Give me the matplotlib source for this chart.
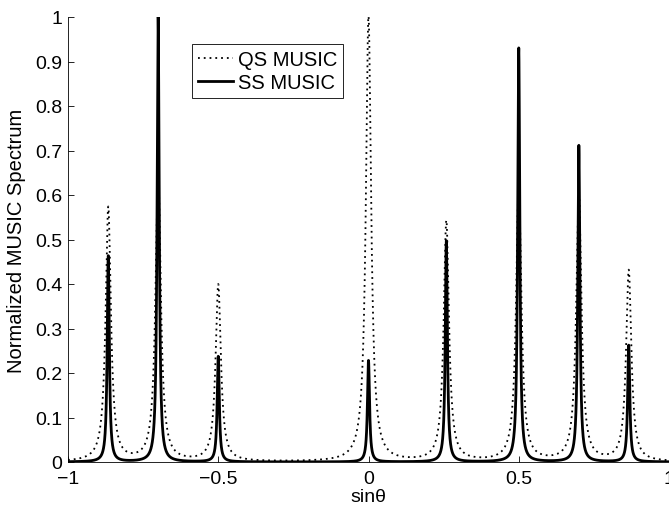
import numpy as np
import matplotlib.pyplot as plt

plt.rcParams['font.family'] = ['Liberation Sans', 'DejaVu Sans']

# peak positions (sin theta) and normalized peak heights
peak_pos = [-0.866, -0.7, -0.5, 0.0, 0.259, 0.5, 0.7, 0.866]
qs_heights = [0.571, 0.65, 0.397, 1.0, 0.54, 0.62, 0.60, 0.429]
ss_heights = [0.463, 1.0, 0.237, 0.228, 0.497, 0.93, 0.711, 0.262]
qs_width = 0.0105
ss_width = 0.0042

x = np.linspace(-1, 1, 8001)


def spectrum(heights, w):
    y = np.zeros_like(x)
    for p, h in zip(peak_pos, heights):
        y += h / (1 + ((x - p) / w) ** 2)
    return y


qs = spectrum(qs_heights, qs_width)
ss = spectrum(ss_heights, ss_width)

fig = plt.figure(figsize=(6.69, 5.06), dpi=100)
ax = fig.add_axes([68 / 669, 43 / 506, 601 / 669, 445 / 506])

ax.plot(x, qs, color='black', linestyle=(0, (1, 2.2)), linewidth=1.3, label='QS MUSIC')
ax.plot(x, ss, color='black', linestyle='-', linewidth=2.0, label='SS MUSIC')

ax.set_xlim(-1, 1)
ax.set_ylim(0, 1)
ax.set_xticks([-1, -0.5, 0, 0.5, 1])
ax.set_xticklabels(['\u22121', '\u22120.5', '0', '0.5', '1'])
ax.set_yticks(np.arange(0, 1.01, 0.1))
ax.set_yticklabels(['0', '0.1', '0.2', '0.3', '0.4', '0.5', '0.6', '0.7', '0.8', '0.9', '1'])
ax.tick_params(direction='in', length=4, width=0.6, labelsize=14)
ax.tick_params(axis='x', pad=6)
ax.tick_params(axis='y', pad=4)
ax.spines['top'].set_visible(False)
ax.spines['right'].set_visible(False)
for s in ['left', 'bottom']:
    ax.spines[s].set_linewidth(0.6)

ax.set_xlabel('sin\u03b8', fontsize=14, va='top')
ax.xaxis.set_label_coords(0.5, -0.058)
ax.set_ylabel('Normalized MUSIC Spectrum', fontsize=14.5)
ax.yaxis.set_label_coords(-0.07, 0.5)

leg = ax.legend(loc='upper left', bbox_to_anchor=(0.207, 0.939), borderaxespad=0,
                fontsize=14.5, handlelength=1.7, handletextpad=0.25, fancybox=False,
                framealpha=1, borderpad=0.3, labelspacing=0.2)
leg.get_frame().set_edgecolor('black')
leg.get_frame().set_linewidth(0.6)

fig.savefig('out.png', dpi=100)
